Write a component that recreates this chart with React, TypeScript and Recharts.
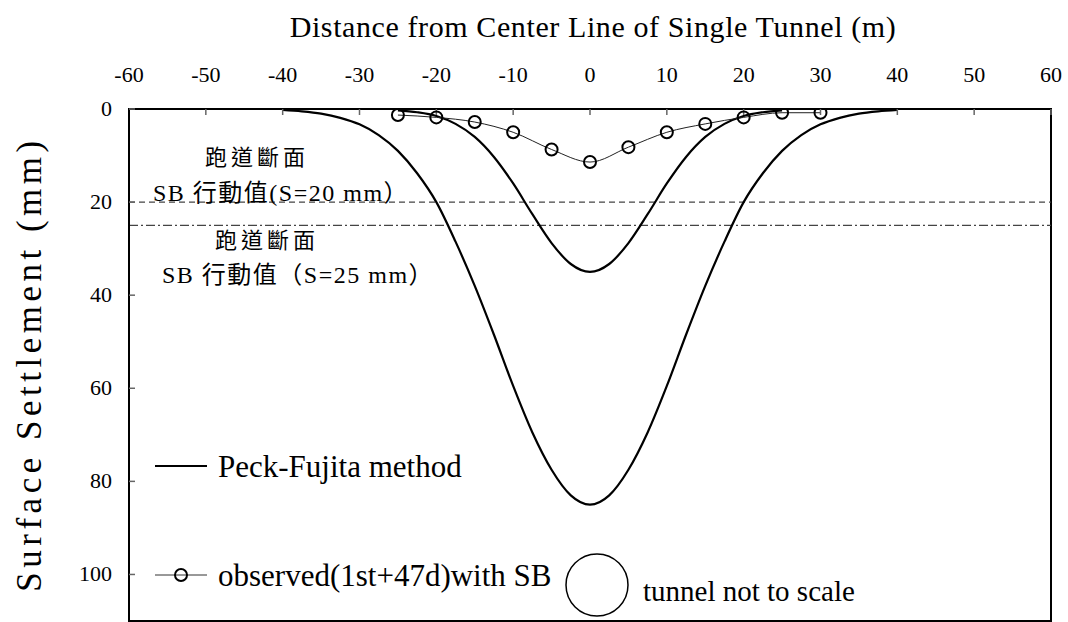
import React from 'react';
import {
    ComposedChart,
    Line,
    XAxis,
    YAxis,
    ReferenceLine,
    ReferenceArea
} from 'recharts';

// Peck-Fujita predicted troughs (2.5 m step)
const peckDistance = [
    -40, -37.5, -35, -32.5, -30, -27.5, -25, -22.5, -20, -17.5, -15, -12.5, -10, -7.5, -5, -2.5,
    0, 2.5, 5, 7.5, 10, 12.5, 15, 17.5, 20, 22.5, 25, 27.5, 30, 32.5, 35, 37.5, 40
];
const peckWide = [
    0.2, 0.5, 1.0, 1.9, 3.3, 5.6, 9.0, 13.8, 20.0, 28.5, 38.0, 48.5, 59.5, 69.5, 77.5, 83.0,
    85.0, 83.0, 77.5, 69.5, 59.5, 48.5, 38.0, 28.5, 20.0, 13.8, 9.0, 5.6, 3.3, 1.9, 1.0, 0.5, 0.2
];
const peckNarrow = [
    null, null, null, null, null, null, 0.3, 0.7, 1.5, 3.2, 6.0, 10.3, 16.0, 22.6, 28.8, 33.3,
    35.0, 33.3, 28.8, 22.6, 16.0, 10.3, 6.0, 3.2, 1.5, 0.7, 0.3, null, null, null, null, null, null
];

// observed (1st+47d) with SB
const obsDistance = [-25, -20, -15, -10, -5, 0, 5, 10, 15, 20, 25, 30];
const obsSettlement = [1.3, 1.8, 2.8, 5.0, 8.7, 11.4, 8.2, 5.0, 3.2, 1.8, 0.8, 0.8];

const xTicks = [-60, -50, -40, -30, -20, -10, 0, 10, 20, 30, 40, 50, 60];
const yTicks = [0, 20, 40, 60, 80, 100];
const actionLevels = [20, 25];

const peckData = peckDistance.map((x, i) => ({ x, wide: peckWide[i], narrow: peckNarrow[i] }));
const obsData = obsDistance.map((x, i) => ({ x, s: obsSettlement[i] }));

const SERIF = 'Liberation Serif, Times New Roman, DejaVu Serif, serif';
const CJK = 'Liberation Serif, Noto Sans CJK TC, serif';

const W = 1068;
const H = 622;

const serif = (size: number, spacing = 0) => ({ fontFamily: SERIF, fontSize: size, letterSpacing: spacing });
const cjk = (size: number, spacing = 0) => ({ fontFamily: CJK, fontSize: size, letterSpacing: spacing });

const XTick = (props: any) => {
    const { x, payload } = props;
    return (
        <text x={x} y={82} textAnchor="middle" style={serif(22)} fill="#000">
            {payload.value}
        </text>
    );
};

const YTick = (props: any) => {
    const { y, payload } = props;
    return (
        <text x={112} y={y + 7} textAnchor="end" style={serif(22)} fill="#000">
            {payload.value}
        </text>
    );
};

export default function App() {
    return (
        <div style={{ position: 'absolute', left: 0, top: 0, width: W, height: H, background: '#fff', fontFamily: SERIF }}>
            <ComposedChart width={W} height={H} margin={{ top: 0, right: 17, bottom: 1, left: 0 }}>
                <XAxis
                    xAxisId="d"
                    dataKey="x"
                    type="number"
                    orientation="top"
                    domain={[-60, 60]}
                    ticks={xTicks}
                    height={109}
                    allowDataOverflow
                    axisLine={{ stroke: '#000', strokeWidth: 2 }}
                    tickLine={{ stroke: '#666', strokeWidth: 1.5 }}
                    tickSize={-6}
                    tick={<XTick />}
                />
                <YAxis
                    yAxisId="s"
                    type="number"
                    reversed
                    domain={[0, 110]}
                    ticks={yTicks}
                    width={129}
                    allowDataOverflow
                    axisLine={{ stroke: '#000', strokeWidth: 2 }}
                    tickLine={{ stroke: '#666', strokeWidth: 1.5 }}
                    tickSize={-6}
                    tick={<YTick />}
                />
                <ReferenceArea
                    xAxisId="d"
                    yAxisId="s"
                    x1={-60}
                    x2={60}
                    y1={0}
                    y2={110}
                    fill="none"
                    stroke="#000"
                    strokeWidth={2}
                />
                <ReferenceLine xAxisId="d" yAxisId="s" y={actionLevels[0]} stroke="#444" strokeWidth={1.3} strokeDasharray="6 4" />
                <ReferenceLine xAxisId="d" yAxisId="s" y={actionLevels[1]} stroke="#444" strokeWidth={1.3} strokeDasharray="9 3 2 3" />
                <Line
                    xAxisId="d"
                    yAxisId="s"
                    data={peckData}
                    dataKey="wide"
                    type="monotone"
                    stroke="#000"
                    strokeWidth={2.2}
                    dot={false}
                    isAnimationActive={false}
                />
                <Line
                    xAxisId="d"
                    yAxisId="s"
                    data={peckData}
                    dataKey="narrow"
                    type="monotone"
                    stroke="#000"
                    strokeWidth={2.2}
                    dot={false}
                    connectNulls={false}
                    isAnimationActive={false}
                />
                <Line
                    xAxisId="d"
                    yAxisId="s"
                    data={obsData}
                    dataKey="s"
                    type="monotone"
                    stroke="#222"
                    strokeWidth={1}
                    dot={{ r: 6, stroke: '#000', strokeWidth: 2, fill: 'none' }}
                    isAnimationActive={false}
                />
            </ComposedChart>

            <svg width={W} height={H} style={{ position: 'absolute', left: 0, top: 0, pointerEvents: 'none' }}>
                <text x={593} y={37} textAnchor="middle" style={serif(30, 0.6)} fill="#000">
                    Distance from Center Line of Single Tunnel (m)
                </text>
                <text
                    x={0}
                    y={0}
                    transform="translate(41 364) rotate(-90)"
                    textAnchor="middle"
                    style={serif(35, 4.5)}
                    fill="#000"
                >
                    Surface Settlement (mm)
                </text>

                <text x={257} y={165} textAnchor="middle" style={cjk(22, 4)} fill="#000">跑道斷面</text>
                <text x={153} y={201} style={cjk(24, 1.5)} fill="#000">SB 行動值(S=20 mm）</text>
                <text x={267} y={248} textAnchor="middle" style={cjk(22, 4)} fill="#000">跑道斷面</text>
                <text x={162} y={283} style={cjk(24, 1.5)} fill="#000">SB 行動值（S=25 mm）</text>

                <line x1={155} y1={466} x2={207} y2={466} stroke="#000" strokeWidth={2} />
                <text x={218} y={477} style={serif(31)} fill="#000">Peck-Fujita method</text>

                <line x1={155} y1={575} x2={207} y2={575} stroke="#333" strokeWidth={1} />
                <circle cx={181} cy={575} r={6} stroke="#000" strokeWidth={2} fill="none" />
                <text x={218} y={586} style={serif(31)} fill="#000">observed(1st+47d)with SB</text>

                <circle cx={597} cy={585} r={31} stroke="#000" strokeWidth={1.5} fill="none" />
                <text x={643} y={601} style={serif(29)} fill="#000">tunnel not to scale</text>
            </svg>
        </div>
    );
}
